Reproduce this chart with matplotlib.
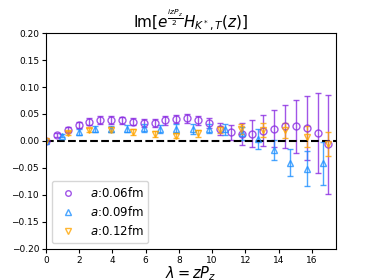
import numpy as np
import matplotlib
matplotlib.use("Agg")
import matplotlib.pyplot as plt
from matplotlib.lines import Line2D

# Data: lambda = z * Pz for three lattice spacings
lam_006 = np.arange(27) * 0.654
im_006 = [0.0, 0.011, 0.021, 0.030, 0.036, 0.039, 0.039, 0.038, 0.036, 0.033,
          0.033, 0.038, 0.041, 0.042, 0.038, 0.033, 0.023, 0.016, 0.013, 0.013,
          0.019, 0.023, 0.027, 0.027, 0.024, 0.015, -0.006]
err_006 = [0.002, 0.003, 0.005, 0.006, 0.007, 0.007, 0.007, 0.007, 0.007, 0.008,
           0.008, 0.008, 0.008, 0.008, 0.008, 0.009, 0.011, 0.014, 0.021, 0.025,
           0.029, 0.034, 0.040, 0.049, 0.060, 0.074, 0.092]

lam_009 = np.arange(18) * 0.981
im_009 = [0.0, 0.010, 0.017, 0.022, 0.022, 0.023, 0.024, 0.022, 0.023, 0.022,
          0.023, 0.022, 0.014, 0.004, -0.017, -0.040, -0.051, -0.041]
err_009 = [0.002, 0.003, 0.005, 0.005, 0.006, 0.006, 0.007, 0.007, 0.008, 0.009,
           0.009, 0.010, 0.012, 0.018, 0.019, 0.025, 0.033, 0.040]

lam_012 = np.arange(14) * 1.307
im_012 = [0.0, 0.015, 0.020, 0.021, 0.017, 0.013, 0.010, 0.014, 0.021, 0.022,
          0.020, 0.020, 0.008, -0.006]
err_012 = [0.002, 0.004, 0.004, 0.005, 0.005, 0.005, 0.005, 0.006, 0.007, 0.009,
           0.013, 0.014, 0.019, 0.022]

labels = ['$a$:0.06fm', '$a$:0.09fm', '$a$:0.12fm']
colors = ['blueviolet', 'dodgerblue', 'orange']
markers = ['o', '^', 'v']

fig = plt.figure(figsize=(3.74, 2.8), dpi=100)
ax = fig.add_axes([0.123, 0.111, 0.775, 0.771])

series = [(lam_006, im_006, err_006), (lam_009, im_009, err_009), (lam_012, im_012, err_012)]
for (x, y, e), c, m in zip(series, colors, markers):
    ax.errorbar(x, y, yerr=e, fmt=m, color=c, mfc='none', ms=5,
                capsize=2, elinewidth=1, alpha=0.8)

ax.axhline(0, color='k', ls='--', lw=1.5)

ax.set_xlim(0, 17.45)
ax.set_ylim(-0.2, 0.2)
ax.set_xticks(np.arange(0, 17, 2))
ax.set_yticks(np.arange(-0.2, 0.21, 0.05))
ax.tick_params(labelsize=6.5, length=3, pad=2)
ax.set_xlabel(r'$\lambda = zP_z$', fontsize=10.5)
ax.xaxis.set_label_coords(0.5, -0.07)
ax.set_title(r'$\mathrm{Im}[e^{\frac{izP_z}{2}}H_{K^*,T}(z)]$', fontsize=11, pad=4)

handles = [Line2D([], [], ls='none', marker=m, color=c, mfc='none', ms=4, alpha=0.8)
           for c, m in zip(colors, markers)]
ax.legend(handles, labels, loc='lower left', fontsize=8.5, handletextpad=0.8,
          labelspacing=0.45, borderaxespad=0.5)

fig.savefig('out.png', dpi=100)
